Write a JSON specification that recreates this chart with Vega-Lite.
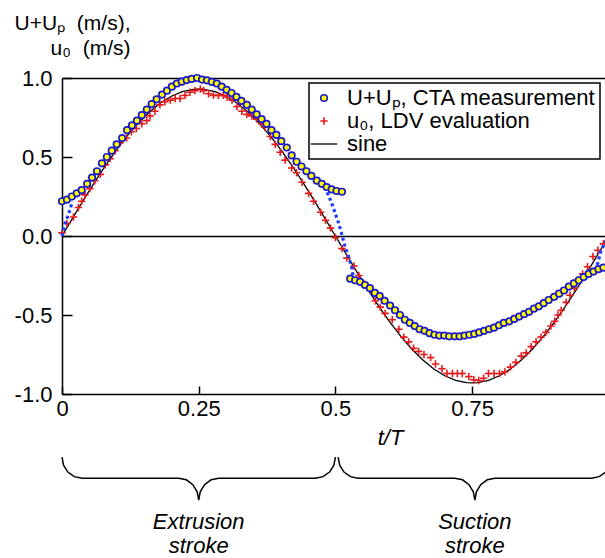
{
  "$schema": "https://vega.github.io/schema/vega-lite/v6.json",
  "width": 543,
  "height": 316,
  "autosize": {"type": "none"},
  "padding": {"left": 62, "top": 78, "right": 0, "bottom": 164},
  "config": {"font": "Liberation Sans", "view": {"stroke": null}},
  "datasets": {
    "cta": [
      {"t":0.000,"v":0.22},{"t":0.009,"v":0.23},{"t":0.018,"v":0.25},{"t":0.027,"v":0.27},{"t":0.036,"v":0.29},
      {"t":0.046,"v":0.33},{"t":0.055,"v":0.37},{"t":0.064,"v":0.41},{"t":0.073,"v":0.46},{"t":0.082,"v":0.50},
      {"t":0.091,"v":0.54},{"t":0.100,"v":0.58},{"t":0.110,"v":0.62},{"t":0.119,"v":0.67},{"t":0.128,"v":0.70},
      {"t":0.137,"v":0.73},{"t":0.146,"v":0.765},{"t":0.155,"v":0.80},{"t":0.164,"v":0.835},{"t":0.173,"v":0.865},
      {"t":0.183,"v":0.895},{"t":0.192,"v":0.92},{"t":0.201,"v":0.945},{"t":0.210,"v":0.965},{"t":0.219,"v":0.977},
      {"t":0.228,"v":0.987},{"t":0.237,"v":0.994},{"t":0.247,"v":1.0},{"t":0.256,"v":0.99},{"t":0.265,"v":0.985},
      {"t":0.274,"v":0.975},{"t":0.283,"v":0.965},{"t":0.292,"v":0.945},{"t":0.301,"v":0.925},{"t":0.310,"v":0.905},
      {"t":0.319,"v":0.88},{"t":0.328,"v":0.855},{"t":0.338,"v":0.83},{"t":0.347,"v":0.80},{"t":0.356,"v":0.77},
      {"t":0.365,"v":0.74},{"t":0.374,"v":0.71},{"t":0.383,"v":0.67},{"t":0.392,"v":0.64},{"t":0.401,"v":0.60},
      {"t":0.411,"v":0.56},{"t":0.420,"v":0.51},{"t":0.429,"v":0.47},{"t":0.438,"v":0.44},{"t":0.447,"v":0.41},
      {"t":0.456,"v":0.38},{"t":0.466,"v":0.35},{"t":0.475,"v":0.33},{"t":0.484,"v":0.31},{"t":0.493,"v":0.295},
      {"t":0.502,"v":0.285},{"t":0.512,"v":0.28},
      {"t":0.527,"v":-0.27},{"t":0.536,"v":-0.28},{"t":0.545,"v":-0.29},{"t":0.554,"v":-0.31},{"t":0.563,"v":-0.33},
      {"t":0.572,"v":-0.36},{"t":0.581,"v":-0.38},{"t":0.590,"v":-0.41},{"t":0.600,"v":-0.44},{"t":0.609,"v":-0.47},
      {"t":0.618,"v":-0.50},{"t":0.627,"v":-0.53},{"t":0.636,"v":-0.55},{"t":0.645,"v":-0.57},{"t":0.654,"v":-0.59},
      {"t":0.663,"v":-0.60},{"t":0.672,"v":-0.615},{"t":0.681,"v":-0.625},{"t":0.690,"v":-0.63},{"t":0.699,"v":-0.63},
      {"t":0.708,"v":-0.635},{"t":0.718,"v":-0.635},{"t":0.727,"v":-0.635},{"t":0.736,"v":-0.63},{"t":0.745,"v":-0.625},
      {"t":0.754,"v":-0.62},{"t":0.763,"v":-0.61},{"t":0.772,"v":-0.60},{"t":0.781,"v":-0.59},{"t":0.790,"v":-0.58},
      {"t":0.799,"v":-0.565},{"t":0.808,"v":-0.55},{"t":0.818,"v":-0.54},{"t":0.827,"v":-0.525},{"t":0.836,"v":-0.51},
      {"t":0.845,"v":-0.495},{"t":0.854,"v":-0.48},{"t":0.863,"v":-0.46},{"t":0.872,"v":-0.445},{"t":0.881,"v":-0.425},
      {"t":0.890,"v":-0.405},{"t":0.900,"v":-0.385},{"t":0.909,"v":-0.365},{"t":0.918,"v":-0.345},{"t":0.927,"v":-0.32},
      {"t":0.936,"v":-0.30},{"t":0.945,"v":-0.28},{"t":0.954,"v":-0.26},{"t":0.963,"v":-0.24},{"t":0.972,"v":-0.225},
      {"t":0.981,"v":-0.21},{"t":0.990,"v":-0.20}
    ],
    "ldv": [
      {"t":0.000,"v":0.02},{"t":0.009,"v":0.08},{"t":0.021,"v":0.12},{"t":0.030,"v":0.18},{"t":0.036,"v":0.22},
      {"t":0.042,"v":0.26},{"t":0.051,"v":0.30},{"t":0.060,"v":0.35},{"t":0.070,"v":0.39},{"t":0.079,"v":0.45},
      {"t":0.088,"v":0.49},{"t":0.097,"v":0.54},{"t":0.106,"v":0.59},{"t":0.118,"v":0.62},{"t":0.127,"v":0.66},
      {"t":0.136,"v":0.68},{"t":0.146,"v":0.71},{"t":0.155,"v":0.73},{"t":0.161,"v":0.76},{"t":0.170,"v":0.79},
      {"t":0.179,"v":0.83},{"t":0.188,"v":0.85},{"t":0.198,"v":0.86},{"t":0.207,"v":0.87},{"t":0.216,"v":0.87},
      {"t":0.225,"v":0.89},{"t":0.234,"v":0.91},{"t":0.243,"v":0.92},{"t":0.253,"v":0.93},{"t":0.259,"v":0.92},
      {"t":0.268,"v":0.90},{"t":0.277,"v":0.89},{"t":0.286,"v":0.89},{"t":0.295,"v":0.89},{"t":0.302,"v":0.88},
      {"t":0.311,"v":0.86},{"t":0.320,"v":0.82},{"t":0.329,"v":0.79},{"t":0.338,"v":0.77},{"t":0.347,"v":0.76},
      {"t":0.356,"v":0.74},{"t":0.365,"v":0.71},{"t":0.371,"v":0.69},{"t":0.381,"v":0.63},{"t":0.390,"v":0.58},
      {"t":0.399,"v":0.53},{"t":0.408,"v":0.48},{"t":0.420,"v":0.43},{"t":0.429,"v":0.40},{"t":0.439,"v":0.34},
      {"t":0.451,"v":0.27},{"t":0.460,"v":0.22},{"t":0.473,"v":0.15},{"t":0.482,"v":0.10},{"t":0.491,"v":0.05},
      {"t":0.500,"v":-0.01},{"t":0.512,"v":-0.08},{"t":0.521,"v":-0.14},{"t":0.534,"v":-0.19},{"t":0.543,"v":-0.25},
      {"t":0.552,"v":-0.30},{"t":0.564,"v":-0.34},{"t":0.573,"v":-0.41},{"t":0.582,"v":-0.45},{"t":0.591,"v":-0.49},
      {"t":0.604,"v":-0.53},{"t":0.616,"v":-0.59},{"t":0.625,"v":-0.64},{"t":0.634,"v":-0.67},{"t":0.643,"v":-0.71},
      {"t":0.652,"v":-0.73},{"t":0.662,"v":-0.75},{"t":0.674,"v":-0.77},{"t":0.683,"v":-0.81},{"t":0.695,"v":-0.84},
      {"t":0.704,"v":-0.87},{"t":0.714,"v":-0.87},{"t":0.723,"v":-0.87},{"t":0.732,"v":-0.87},{"t":0.744,"v":-0.89},
      {"t":0.753,"v":-0.91},{"t":0.762,"v":-0.915},{"t":0.771,"v":-0.90},{"t":0.780,"v":-0.87},{"t":0.790,"v":-0.87},
      {"t":0.800,"v":-0.87},{"t":0.810,"v":-0.86},{"t":0.820,"v":-0.83},{"t":0.830,"v":-0.80},{"t":0.840,"v":-0.76},
      {"t":0.849,"v":-0.74},{"t":0.858,"v":-0.70},{"t":0.867,"v":-0.67},{"t":0.876,"v":-0.64},{"t":0.885,"v":-0.61},
      {"t":0.894,"v":-0.57},{"t":0.901,"v":-0.54},{"t":0.907,"v":-0.50},{"t":0.913,"v":-0.47},{"t":0.922,"v":-0.42},
      {"t":0.929,"v":-0.375},{"t":0.937,"v":-0.33},{"t":0.944,"v":-0.28},{"t":0.952,"v":-0.24},{"t":0.961,"v":-0.195},
      {"t":0.971,"v":-0.13},{"t":0.980,"v":-0.09},{"t":0.990,"v":-0.05}
    ],
    "sine": [
      {"t":0.00,"v":0},{"t":0.02,"v":0.1166},{"t":0.04,"v":0.2313},{"t":0.06,"v":0.3423},{"t":0.08,"v":0.4481},
      {"t":0.10,"v":0.5467},{"t":0.12,"v":0.6366},{"t":0.14,"v":0.7166},{"t":0.16,"v":0.7852},{"t":0.18,"v":0.8415},
      {"t":0.20,"v":0.8845},{"t":0.22,"v":0.9135},{"t":0.24,"v":0.9282},{"t":0.25,"v":0.93},{"t":0.26,"v":0.9282},
      {"t":0.28,"v":0.9135},{"t":0.30,"v":0.8845},{"t":0.32,"v":0.8415},{"t":0.34,"v":0.7852},{"t":0.36,"v":0.7166},
      {"t":0.38,"v":0.6366},{"t":0.40,"v":0.5467},{"t":0.42,"v":0.4481},{"t":0.44,"v":0.3423},{"t":0.46,"v":0.2313},
      {"t":0.48,"v":0.1166},{"t":0.50,"v":0},{"t":0.52,"v":-0.1166},{"t":0.54,"v":-0.2313},{"t":0.56,"v":-0.3423},
      {"t":0.58,"v":-0.4481},{"t":0.60,"v":-0.5467},{"t":0.62,"v":-0.6366},{"t":0.64,"v":-0.7166},{"t":0.66,"v":-0.7852},
      {"t":0.68,"v":-0.8415},{"t":0.70,"v":-0.8845},{"t":0.72,"v":-0.9135},{"t":0.74,"v":-0.9282},{"t":0.75,"v":-0.93},
      {"t":0.76,"v":-0.9282},{"t":0.78,"v":-0.9135},{"t":0.80,"v":-0.8845},{"t":0.82,"v":-0.8415},{"t":0.84,"v":-0.7852},
      {"t":0.86,"v":-0.7166},{"t":0.88,"v":-0.6366},{"t":0.90,"v":-0.5467},{"t":0.92,"v":-0.4481},{"t":0.94,"v":-0.3423},
      {"t":0.96,"v":-0.2313},{"t":0.98,"v":-0.1166},{"t":1.00,"v":0}
    ],
    "dots": [
      {"seg":"a","t":0.000,"v":0.00},{"seg":"a","t":0.005,"v":0.07},{"seg":"a","t":0.010,"v":0.12},{"seg":"a","t":0.015,"v":0.17},{"seg":"a","t":0.019,"v":0.22},
      {"seg":"b","t":0.480,"v":0.31},{"seg":"b","t":0.487,"v":0.26},{"seg":"b","t":0.494,"v":0.20},{"seg":"b","t":0.500,"v":0.14},{"seg":"b","t":0.506,"v":0.08},
      {"seg":"b","t":0.511,"v":0.02},{"seg":"b","t":0.517,"v":-0.06},{"seg":"b","t":0.524,"v":-0.13},{"seg":"b","t":0.530,"v":-0.20},{"seg":"b","t":0.532,"v":-0.25},
      {"seg":"c","t":0.975,"v":-0.22},{"seg":"c","t":0.980,"v":-0.17},{"seg":"c","t":0.985,"v":-0.10},{"seg":"c","t":0.993,"v":-0.04},{"seg":"c","t":1.000,"v":0.00}
    ],
    "braces": [
      {"b":"L","t":0.0,"v":-1.40},{"b":"L","t":0.0028,"v":-1.451},{"b":"L","t":0.0107,"v":-1.494},{"b":"L","t":0.0226,"v":-1.523},{"b":"L","t":0.0366,"v":-1.533},
      {"b":"L","t":0.2134,"v":-1.533},{"b":"L","t":0.2274,"v":-1.543},{"b":"L","t":0.2393,"v":-1.574},{"b":"L","t":0.2472,"v":-1.619},{"b":"L","t":0.25,"v":-1.672},
      {"b":"L","t":0.2528,"v":-1.619},{"b":"L","t":0.2607,"v":-1.574},{"b":"L","t":0.2726,"v":-1.543},{"b":"L","t":0.2866,"v":-1.533},{"b":"L","t":0.4634,"v":-1.533},
      {"b":"L","t":0.4774,"v":-1.523},{"b":"L","t":0.4893,"v":-1.494},{"b":"L","t":0.4972,"v":-1.451},{"b":"L","t":0.5,"v":-1.40},
      {"b":"R","t":0.505,"v":-1.40},{"b":"R","t":0.5078,"v":-1.451},{"b":"R","t":0.5157,"v":-1.494},{"b":"R","t":0.5276,"v":-1.523},{"b":"R","t":0.5416,"v":-1.533},
      {"b":"R","t":0.7184,"v":-1.533},{"b":"R","t":0.7324,"v":-1.543},{"b":"R","t":0.7443,"v":-1.574},{"b":"R","t":0.7522,"v":-1.619},{"b":"R","t":0.755,"v":-1.672},
      {"b":"R","t":0.7578,"v":-1.619},{"b":"R","t":0.7657,"v":-1.574},{"b":"R","t":0.7776,"v":-1.543},{"b":"R","t":0.7916,"v":-1.533},{"b":"R","t":0.9684,"v":-1.533},
      {"b":"R","t":0.9824,"v":-1.523},{"b":"R","t":0.9943,"v":-1.494},{"b":"R","t":1.0022,"v":-1.451},{"b":"R","t":1.005,"v":-1.40}
    ],
    "notes": [
      {"t":0.25,"v":-1.81,"label":"Extrusion"},{"t":0.25,"v":-1.962,"label":"stroke"},
      {"t":0.755,"v":-1.81,"label":"Suction"},{"t":0.755,"v":-1.962,"label":"stroke"}
    ]
  },
  "encoding": {
    "x": {"field": "t", "type": "quantitative", "scale": {"domain": [0, 0.993], "nice": false, "zero": false},
      "axis": {"values": [0, 0.25, 0.5, 0.75, 1], "labelExpr": "'' + datum.value",
        "grid": true, "gridColor": "black", "gridWidth": 1.5,
        "gridOpacity": {"condition": {"test": "datum.value == 0", "value": 1}, "value": 0},
        "domain": false, "offset": -8, "ticks": true, "tickColor": "black", "tickWidth": 1.5, "tickSize": 8,
        "labelFontSize": 22, "labelColor": "black", "labelPadding": 4, "labelFlush": false, "labelOverlap": false,
        "title": "t/T", "titleFontStyle": "italic", "titleFontWeight": "normal", "titleFontSize": 22, "titleColor": "black",
        "titleX": 328, "titleY": 51, "titleBaseline": "middle", "titleAlign": "center"}},
    "y": {"field": "v", "type": "quantitative", "scale": {"domain": [-1, 1], "nice": false},
      "axis": {"values": [-1, -0.5, 0, 0.5, 1], "labelExpr": "datum.value < 0 ? '-' + format(-datum.value, '.1f') : format(datum.value, '.1f')",
        "grid": true, "gridColor": "black", "gridWidth": 1.5,
        "gridOpacity": {"condition": {"test": "datum.value == 0 || datum.value == 1 || datum.value == -1", "value": 1}, "value": 0},
        "domain": false, "offset": -10, "ticks": true, "tickColor": "black", "tickWidth": 1.5, "tickSize": 10,
        "labelFontSize": 22, "labelColor": "black", "labelPadding": 10,
        "title": ["U+Uₚ\u00a0 (m/s),", "u₀\u00a0 (m/s)"], "titleAngle": 0, "titleAlign": "right", "titleBaseline": "alphabetic",
        "titleX": 58, "titleY": -49, "titleFontSize": 21, "titleFontWeight": "normal", "titleColor": "black", "titleLineHeight": 25}}
  },
  "layer": [
    {
      "data": {"name": "sine"},
      "mark": {"type": "line", "strokeWidth": 1.3},
      "encoding": {
        "stroke": {"datum": "sine", "type": "nominal",
          "scale": {"domain": ["U+Uₚ, CTA measurement", "u₀, LDV evaluation", "sine"], "range": ["#1a1acc", "#e41a1c", "#000000"]},
          "legend": {"title": null, "orient": "top-right", "offset": 5, "labelFontSize": 22, "labelColor": "black", "labelLimit": 400,
            "strokeColor": "black", "fillColor": "white", "padding": 4, "rowPadding": 1, "symbolSize": 200, "labelOffset": 12,
            "encode": {
              "legend": {"update": {"strokeWidth": {"value": 1.5}}},
              "symbols": {"update": {
                "shape": {"signal": "datum.value === 'sine' ? 'stroke' : (datum.value === 'u₀, LDV evaluation' ? 'M-1,0H1M0,-1V1' : 'circle')"},
                "size": {"signal": "datum.value === 'sine' ? 700 : (datum.value === 'u₀, LDV evaluation' ? 55 : 44)"},
                "fill": {"signal": "datum.value === 'U+Uₚ, CTA measurement' ? '#ffff00' : 'transparent'"},
                "stroke": {"signal": "datum.value === 'sine' ? '#000000' : (datum.value === 'u₀, LDV evaluation' ? '#e41a1c' : '#1a1acc')"},
                "strokeWidth": {"signal": "datum.value === 'sine' ? 1.3 : 1.6"},
                "opacity": {"value": 1}
              }}
            }}
        }
      }
    },
    {
      "data": {"values": [{}]},
      "mark": {"type": "rule", "color": "black", "strokeWidth": 1.5},
      "encoding": {"x": {"datum": 0.25, "type": "quantitative"}, "y": {"datum": -1, "type": "quantitative"}, "y2": {"datum": -0.949}}
    },
    {
      "data": {"values": [{}]},
      "mark": {"type": "rule", "color": "black", "strokeWidth": 1.5},
      "encoding": {"x": {"datum": 0.5, "type": "quantitative"}, "y": {"datum": -1, "type": "quantitative"}, "y2": {"datum": -0.949}}
    },
    {
      "data": {"values": [{}]},
      "mark": {"type": "rule", "color": "black", "strokeWidth": 1.5},
      "encoding": {"x": {"datum": 0.75, "type": "quantitative"}, "y": {"datum": -1, "type": "quantitative"}, "y2": {"datum": -0.949}}
    },
    {
      "data": {"values": [{}]},
      "mark": {"type": "rule", "color": "black", "strokeWidth": 1.5},
      "encoding": {"y": {"datum": 0.5, "type": "quantitative"}, "x": {"datum": 0, "type": "quantitative"}, "x2": {"datum": 0.0183}}
    },
    {
      "data": {"values": [{}]},
      "mark": {"type": "rule", "color": "black", "strokeWidth": 1.5},
      "encoding": {"y": {"datum": -0.5, "type": "quantitative"}, "x": {"datum": 0, "type": "quantitative"}, "x2": {"datum": 0.0183}}
    },
    {
      "data": {"name": "ldv"},
      "mark": {"type": "point", "shape": "M-1,0H1M0,-1V1", "filled": false, "size": 55, "strokeWidth": 1.6, "opacity": 1},
      "encoding": {"stroke": {"datum": "u₀, LDV evaluation", "type": "nominal"}}
    },
    {
      "data": {"name": "dots"},
      "mark": {"type": "line", "color": "#1a3cff", "strokeWidth": 3.2, "strokeDash": [3, 3], "strokeCap": "butt"},
      "encoding": {"detail": {"field": "seg", "type": "nominal"}}
    },
    {
      "data": {"name": "cta"},
      "mark": {"type": "point", "shape": "circle", "filled": true, "fill": "#ffff00", "size": 42, "strokeWidth": 1.7, "opacity": 1},
      "encoding": {"stroke": {"datum": "U+Uₚ, CTA measurement", "type": "nominal"}}
    },
    {
      "data": {"name": "braces"},
      "mark": {"type": "line", "color": "black", "strokeWidth": 1.5},
      "encoding": {"detail": {"field": "b", "type": "nominal"}}
    },
    {
      "data": {"name": "notes"},
      "mark": {"type": "text", "fontSize": 22, "fontStyle": "italic", "align": "center", "baseline": "middle", "color": "black"},
      "encoding": {"text": {"field": "label", "type": "nominal"}}
    }
  ]
}
